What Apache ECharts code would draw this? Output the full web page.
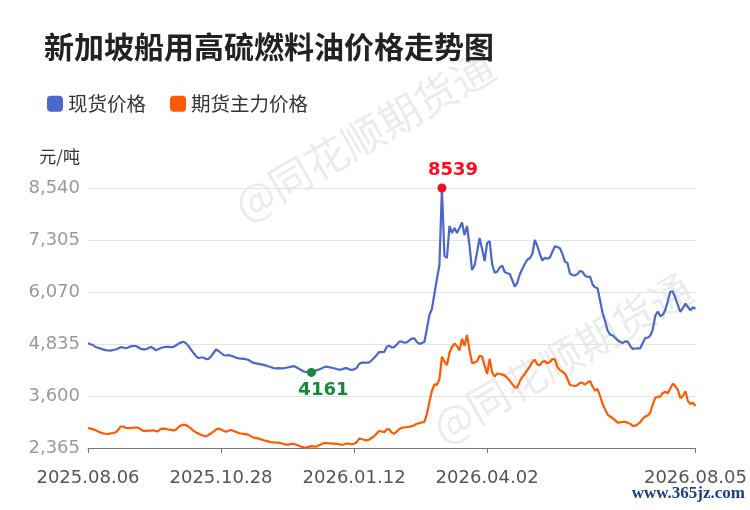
<!DOCTYPE html>
<html>
<head>
<meta charset="utf-8">
<script src="https://cdn.jsdelivr.net/npm/echarts@6/dist/echarts.min.js"></script>
<style>
  html, body { margin: 0; padding: 0; background: #fff; }
  #app { width: 750px; height: 510px; }
</style>
</head>
<body>
<div id="app"></div>
<script>
// 现货价格 (元/吨), one value per trading day
var spot = [
    4852, 4830, 4811, 4764, 4747, 4728, 4707, 4690, 4681, 4678,
    4692, 4704, 4728, 4759, 4752, 4735, 4752, 4780, 4788, 4788,
    4759, 4721, 4709, 4709, 4735, 4764, 4735, 4685, 4709, 4740,
    4757, 4768, 4766, 4761, 4764, 4799, 4840, 4868, 4887, 4856,
    4788, 4704, 4626, 4550, 4498, 4514, 4514, 4474, 4483, 4538,
    4621, 4704, 4669, 4621, 4574, 4562, 4572, 4557, 4536, 4510,
    4493, 4488, 4481, 4474, 4455, 4415, 4386, 4374, 4362, 4351,
    4339, 4322, 4301, 4282, 4263, 4258, 4262, 4255, 4258, 4270,
    4284, 4298, 4310, 4282, 4249, 4213, 4180, 4173, 4168, 4161,
    4187, 4208, 4229, 4256, 4284, 4298, 4284, 4272, 4258, 4241,
    4227, 4229, 4256, 4263, 4234, 4222, 4234, 4265, 4360, 4391,
    4391, 4391, 4396, 4448, 4510, 4574, 4645, 4640, 4645, 4769,
    4795, 4754, 4761, 4821, 4892, 4892, 4864, 4875, 4923, 4963,
    4970, 4887, 4835, 4859, 4883, 5191, 5524, 5666, 6022, 6379,
    6711, 8539, 6925, 6878, 7638, 7471, 7590, 7471, 7590, 7721,
    7424, 7638, 7163, 6592, 6699, 7020, 7353, 7091, 6806, 7234,
    7281, 6735, 6528, 6552, 6652, 6699, 6545, 6517, 6498, 6355,
    6201, 6284, 6486, 6616, 6735, 6835, 6870, 6972, 7305, 7163,
    6972, 6818, 6882, 6861, 6889, 7027, 7155, 7136, 7108, 6972,
    6792, 6759, 6509, 6469, 6465, 6495, 6569, 6550, 6460, 6426,
    6438, 6250, 6181, 6160, 5866, 5571, 5381, 5156, 5061, 5039,
    4984, 4925, 4889, 4859, 4897, 4892, 4792, 4716, 4728, 4733,
    4733, 4859, 4980, 4984, 5036, 5184, 5505, 5607, 5493, 5531,
    5650, 5856, 6082, 6077, 5927, 5761, 5595, 5690, 5795, 5714,
    5635, 5707, 5671
];

// 期货主力价格 (元/吨)
var futures = [
    2840, 2826, 2812, 2785, 2759, 2735, 2712, 2704, 2697, 2712,
    2721, 2735, 2792, 2876, 2876, 2845, 2838, 2842, 2847, 2847,
    2847, 2809, 2773, 2773, 2776, 2776, 2785, 2764, 2761, 2821,
    2823, 2819, 2804, 2795, 2783, 2797, 2859, 2899, 2918, 2911,
    2873, 2830, 2776, 2735, 2707, 2679, 2657, 2641, 2674, 2712,
    2754, 2802, 2826, 2802, 2776, 2752, 2773, 2792, 2769, 2745,
    2721, 2709, 2702, 2695, 2676, 2641, 2612, 2600, 2586, 2570,
    2550, 2534, 2517, 2501, 2498, 2494, 2491, 2477, 2460, 2446,
    2446, 2467, 2460, 2441, 2417, 2393, 2382, 2375, 2393, 2410,
    2403, 2398, 2429, 2455, 2481, 2479, 2477, 2472, 2470, 2465,
    2455, 2441, 2453, 2472, 2467, 2455, 2465, 2501, 2588, 2579,
    2562, 2546, 2567, 2603, 2641, 2710, 2769, 2757, 2740, 2809,
    2809, 2728, 2702, 2757, 2812, 2845, 2852, 2859, 2869, 2885,
    2907, 2940, 2957, 2971, 2985, 3173, 3458, 3719, 3876, 3866,
    3997, 4533, 4415, 4336, 4621, 4764, 4844, 4788, 4681, 4961,
    4788, 5049, 4681, 4379, 4398, 4427, 4555, 4538, 4322, 4122,
    4479, 4158, 4063, 4134, 4122, 4108, 4089, 4030, 3959, 3883,
    3811, 3797, 3949, 4049, 4127, 4213, 4298, 4408, 4460, 4348,
    4334, 4412, 4429, 4374, 4408, 4479, 4469, 4291, 4215, 4175,
    4132, 4009, 3861, 3849, 3837, 3856, 3913, 3913, 3871, 3921,
    3959, 3826, 3728, 3766, 3600, 3410, 3277, 3158, 3113, 3073,
    3023, 2968, 2975, 2982, 2985, 2966, 2938, 2890, 2893, 2928,
    2980, 3059, 3115, 3137, 3208, 3403, 3557, 3583, 3583, 3674,
    3702, 3664, 3783, 3895, 3830, 3747, 3548, 3600, 3712, 3481,
    3410, 3441, 3362
];

// x axis labels and the trading-day index they sit on
var tickDates = ['2025.08.06', '2025.10.28', '2026.01.12', '2026.04.02', '2026.08.05'];
var tickIndex = [0, 53, 106, 159, 242];

// y axis ticks
var yTicks = [2365, 3600, 4835, 6070, 7305, 8540];

var days = spot.map(function (v, i) {
    var k = tickIndex.indexOf(i);
    return k >= 0 ? tickDates[k] : String(i);
});

function isTick(i) {
    return tickIndex.indexOf(i) >= 0;
}

var FONT = "'DejaVu Sans', 'Noto Sans CJK SC', sans-serif";
var CJK = "'Noto Sans CJK SC', sans-serif";

var option = {
    animation: false,
    backgroundColor: '#fff',
    textStyle: { fontFamily: FONT },
    title: {
        text: '新加坡船用高硫燃料油价格走势图',
        left: 39,
        top: 27,
        textStyle: { fontFamily: CJK, fontSize: 30, fontWeight: 'bold', color: '#222' }
    },
    legend: {
        left: 42,
        top: 89,
        icon: 'roundRect',
        itemWidth: 16,
        itemHeight: 16,
        itemGap: 24,
        textStyle: { fontFamily: CJK, fontSize: 19.5, color: '#333' },
        data: ['现货价格', '期货主力价格']
    },
    grid: { left: 88, right: 52, top: 188, bottom: 62 },
    xAxis: {
        type: 'category',
        boundaryGap: false,
        data: days,
        axisLine: { lineStyle: { color: '#777' } },
        axisTick: { interval: function (i) { return isTick(i); }, length: 5, lineStyle: { color: '#777' } },
        axisLabel: {
            interval: function (i) { return isTick(i); },
            fontSize: 18,
            color: '#555',
            margin: 21
        },
        splitLine: { show: false }
    },
    yAxis: {
        type: 'value',
        min: 2365,
        max: 8540,
        name: '元/吨',
        nameLocation: 'end',
        nameGap: 23,
        nameTextStyle: { fontFamily: CJK, fontSize: 17, color: '#333', align: 'right', padding: [0, 8, 0, 0] },
        axisLine: { show: false },
        axisTick: { show: false, customValues: yTicks },
        axisLabel: {
            customValues: yTicks,
            fontSize: 18,
            color: '#999',
            margin: 8,
            formatter: function (v) { return v.toLocaleString('en-US'); }
        },
        splitLine: { lineStyle: { color: '#e3e3e3' } }
    },
    graphic: [
        {
            type: 'text', x: 364, y: 136, rotation: Math.PI / 6, z: -10,
            style: { text: '@同花顺期货通', font: "42px 'Noto Sans CJK SC'", fill: 'rgba(0,0,0,0.08)', align: 'center', verticalAlign: 'middle' }
        },
        {
            type: 'text', x: 562, y: 358, rotation: Math.PI / 6, z: -10,
            style: { text: '@同花顺期货通', font: "42px 'Noto Sans CJK SC'", fill: 'rgba(0,0,0,0.08)', align: 'center', verticalAlign: 'middle' }
        },
        {
            type: 'text', right: 5, top: 485,
            style: { text: 'www.365jz.com', font: "bold 17px 'Liberation Serif'", fill: '#1c3d86' }
        }
    ],
    series: [
        {
            name: '现货价格',
            type: 'line',
            data: spot,
            showSymbol: false,
            color: '#4a67c9',
            lineStyle: { width: 2.2 },
            markPoint: {
                symbol: 'circle',
                symbolSize: 9,
                label: { fontSize: 18, fontWeight: 'bold', fontFamily: FONT },
                data: [
                    {
                        type: 'max',
                        itemStyle: { color: '#ff0a1e' },
                        label: { position: 'top', distance: 4, offset: [11, 0], color: '#ff0a1e' }
                    },
                    {
                        type: 'min',
                        itemStyle: { color: '#168a3a' },
                        label: { position: 'bottom', distance: 4, offset: [12, 0], color: '#168a3a' }
                    }
                ]
            }
        },
        {
            name: '期货主力价格',
            type: 'line',
            data: futures,
            showSymbol: false,
            color: '#ff5a00',
            lineStyle: { width: 2.2 }
        }
    ]
};

var myChart = echarts.init(document.getElementById('app'));
myChart.setOption(option);
</script>
</body>
</html>
